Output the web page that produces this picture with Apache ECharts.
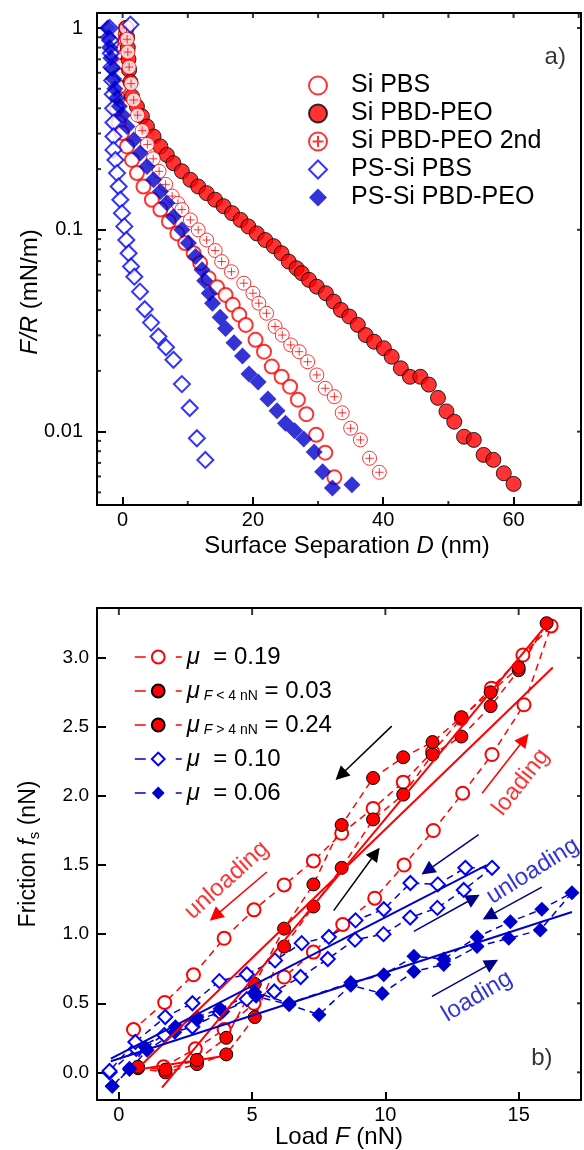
<!DOCTYPE html>
<html><head><meta charset="utf-8">
<script src="https://cdn.jsdelivr.net/npm/echarts@6.0.0/dist/echarts.min.js"></script>
<style>html,body{margin:0;padding:0;background:#fff}#c{width:584px;height:1150px}</style>
</head><body><div id="c"></div>
<script>
// ---------- Panel a) data: [D (nm), F/R (mN/m)] ----------
const siPBS = [[0.5,1.0],[0.45,0.93],[0.35,0.86],[0.2,0.79],[0.05,0.72],[-0.15,0.65],[-0.35,0.58],[-0.55,0.51],[-0.75,0.45],[-0.9,0.40],[-0.6,0.34],[-0.1,0.302],[0.67,0.259],[1.44,0.222],[2.2,0.191],[3.2,0.164],[4.5,0.141],[5.8,0.126],[7.1,0.110],[8.4,0.096],[9.6,0.086],[10.9,0.0766],[11.9,0.0684],[13.2,0.0576],[14.5,0.052],[15.8,0.0476],[16.9,0.0425],[17.9,0.038],[18.9,0.0338],[20.4,0.0285],[21.7,0.0249],[22.9,0.0210],[24.4,0.0187],[25.7,0.0167],[26.9,0.0144],[28.2,0.0122],[29.7,0.00964],[31.1,0.00787],[32.5,0.00594]];
const siPBDPEO = [[0.6,1.0],[0.7,0.9],[0.8,0.8],[0.9,0.7],[1.0,0.62],[1.2,0.54],[1.44,0.458],[2.2,0.408],[2.97,0.365],[3.74,0.325],[4.75,0.290],[5.8,0.259],[6.8,0.235],[7.8,0.214],[9.1,0.195],[10.4,0.177],[11.6,0.164],[12.9,0.152],[14.2,0.141],[15.5,0.131],[16.8,0.121],[18.1,0.112],[19.3,0.104],[20.6,0.096],[21.9,0.089],[23.2,0.083],[24.4,0.0766],[25.5,0.0696],[26.7,0.0645],[27.5,0.061],[28.6,0.0565],[29.8,0.0523],[31.2,0.0485],[32.4,0.0441],[33.5,0.0401],[34.8,0.0372],[36.1,0.0338],[37.3,0.0301],[38.6,0.0279],[40.1,0.0259],[41.3,0.0235],[42.7,0.0206],[44.1,0.0187],[45.7,0.0187],[47.0,0.0171],[48.4,0.0147],[49.7,0.0126],[50.9,0.0112],[52.4,0.00944],[53.9,0.0091],[55.4,0.00767],[56.9,0.00725],[58.5,0.00622],[60.0,0.00551]];
const siPBDPEO2 = [[0.6,1.0],[0.7,0.88],[0.8,0.76],[1.0,0.64],[1.3,0.53],[1.7,0.44],[2.3,0.37],[3.0,0.31],[3.8,0.265],[4.7,0.225],[5.6,0.195],[6.6,0.168],[7.6,0.147],[8.5,0.135],[9.1,0.126],[10.4,0.112],[11.6,0.100],[12.9,0.089],[14.2,0.079],[15.2,0.0696],[16.7,0.062],[18.6,0.0544],[20.0,0.0485],[20.9,0.0433],[22.1,0.0386],[23.4,0.0332],[24.5,0.0301],[25.8,0.0269],[27.1,0.0249],[28.4,0.0222],[29.8,0.0191],[31.1,0.0164],[32.5,0.0149],[33.7,0.0124],[35.0,0.0104],[36.5,0.0091],[37.9,0.00738],[39.4,0.00629]];
const psSiPBS = [[1.2,1.04],[-2.0,1.0],[-1.9,0.87],[-1.8,0.75],[-1.7,0.64],[-1.6,0.55],[-1.5,0.47],[-1.45,0.40],[-1.4,0.34],[-1.4,0.29],[-1.4,0.249],[-1.1,0.222],[-0.86,0.191],[-0.6,0.164],[-0.35,0.141],[-0.1,0.121],[0.26,0.104],[0.57,0.089],[0.92,0.0766],[1.29,0.0658],[1.8,0.0586],[2.67,0.0494],[3.4,0.0404],[4.37,0.0347],[5.5,0.0296],[6.66,0.0262],[7.8,0.0227],[9.1,0.0172],[10.3,0.0131],[11.4,0.00927],[12.7,0.00724]];
const psSiPBDPEO = [[-2.3,1.0],[-2.2,0.9],[-2.0,0.8],[-1.8,0.71],[-1.6,0.63],[-1.4,0.56],[-1.2,0.5],[-0.9,0.45],[-0.5,0.41],[0,0.37],[0.67,0.325],[1.7,0.279],[2.7,0.240],[3.74,0.206],[4.75,0.177],[5.8,0.155],[6.8,0.136],[7.8,0.116],[9.1,0.100],[10.1,0.086],[11.2,0.0738],[12.2,0.0635],[12.6,0.056],[13.3,0.0485],[13.8,0.0433],[14.97,0.0369],[15.8,0.0324],[17.1,0.0276],[18.4,0.0237],[19.4,0.0193],[20.8,0.0176],[22.3,0.0145],[23.7,0.0127],[25.0,0.011],[26.4,0.0101],[27.8,0.0092],[29.4,0.00793],[30.7,0.00633],[32.2,0.00525],[35.2,0.00545]];
const namesA = ['Si PBS','Si PBD-PEO','Si PBD-PEO 2nd','PS-Si PBS','PS-Si PBD-PEO'];
const xMinA = -3.93, xMaxA = 70.35, yMinA = 0.00433, yMaxA = 1.187;
const aXMajor = [0,20,40,60];
const aXMinor = [10,30,50,70];
const aXAll = [0,10,20,30,40,50,60,70];
const aYMajor = [0.01,0.1,1];
const aYMinor = [0.005,0.006,0.007,0.008,0.009,0.02,0.03,0.04,0.05,0.06,0.07,0.08,0.09,0.2,0.3,0.4,0.5,0.6,0.7,0.8,0.9];
const aLabel = [{name:'a)', value:[66.4,0.712]}];

// ---------- Panel b) data: [F (nN), f_s (nN)] loading then unloading ----------
const openCircles = [[1.68,0.04],[2.87,0.17],[3.95,0.31],[5.07,0.50],[6.2,0.69],[7.3,0.87],[8.4,1.07],[9.6,1.26],[10.7,1.50],[11.8,1.75],[12.9,2.02],[14.0,2.30],[15.2,2.66],[16.22,3.23],[15.16,3.02],[13.98,2.78],[12.85,2.56],[11.77,2.32],[10.67,2.10],[9.54,1.91],[8.36,1.73],[7.3,1.53],[6.2,1.356],[5.07,1.176],[3.95,0.97],[2.80,0.706],[1.72,0.506],[0.55,0.31]];
const filledCircles = [[0.72,0.03],[1.75,0.0],[2.93,0.06],[4.03,0.13],[5.1,0.40],[6.2,0.91],[7.3,1.20],[8.36,1.48],[9.54,1.83],[10.67,2.01],[11.77,2.30],[12.85,2.43],[13.95,2.65],[15.0,2.91],[16.05,3.25],[15.0,2.93],[13.95,2.75],[12.85,2.57],[11.77,2.39],[10.67,2.28],[9.54,2.13],[8.36,1.79],[7.3,1.36],[6.2,1.04],[5.1,0.64],[4.03,0.25],[2.93,0.09],[1.75,0.02],[0.72,0.04]];
const openDiamonds = [[-0.35,0.0],[0.65,0.17],[1.7,0.27],[2.76,0.33],[3.8,0.43],[4.8,0.53],[5.83,0.585],[6.82,0.69],[7.84,0.82],[8.86,0.96],[9.93,1.0],[10.93,1.12],[11.95,1.19],[12.94,1.32],[14.0,1.48],[13.0,1.48],[11.97,1.36],[10.94,1.37],[9.94,1.18],[8.88,1.10],[7.88,0.98],[6.86,0.935],[5.86,0.81],[4.8,0.71],[3.77,0.66],[2.76,0.50],[1.74,0.40],[0.62,0.22],[-0.35,0.01]];
const filledDiamonds = [[-0.25,-0.1],[0.4,0.02],[1.06,0.16],[2.1,0.29],[2.93,0.38],[3.9,0.44],[5.15,0.55],[6.39,0.49],[7.51,0.417],[8.7,0.63],[9.88,0.57],[11.07,0.73],[12.19,0.78],[13.44,0.91],[14.63,0.97],[15.81,1.03],[17.0,1.30],[15.87,1.18],[14.69,1.09],[13.44,0.98],[12.19,0.82],[11.07,0.84],[9.94,0.706],[8.70,0.65],[6.39,0.5],[5.1,0.58],[3.8,0.46],[2.93,0.40],[2.12,0.33],[1.0,0.18],[0.4,0.03],[-0.25,-0.1]];
const fitOpenCircles = [[0.72,0.03],[16.28,2.93]];
const fitFilledHigh = [[1.62,-0.11],[16.1,3.25]];
const fitFilledLow = [[0.72,0.02],[4.0,0.12]];
const fitOpenDiamonds = [[-0.3,0.10],[13.8,1.50]];
const fitFilledDiamonds = [[-0.3,0.08],[17.0,1.16]];
const arrowsBlack = [[[10.24,2.505],[8.32,2.15]],[[8.06,1.17],[9.63,1.585]]];
const arrowsRed = [[[13.63,2.02],[15.21,2.41]],[[5.55,1.45],[3.61,1.13]]];
const arrowsBlue = [[[13.5,1.72],[11.57,1.46]],[[15.87,1.34],[13.88,1.13]],[[11.07,1.02],[13.31,1.26]],[[11.75,0.55],[14.0,0.79]]];
const textRed = [{name:'unloading', value:[4.05,1.39], rot:42},{name:'loading', value:[15.09,2.10], rot:52}];
const textBlue = [{name:'unloading', value:[15.53,1.457], rot:32},{name:'loading', value:[13.44,0.55], rot:31}];
const bLabel = [{name:'b)', value:[15.87,0.104]}];
const namesB = ['oc','fc','fc2','od','fd'];
const legendB = {oc:'{i|μ}  = 0.19', fc:'{i|μ}{s| }{si|F}{s| < 4 nN} = 0.03', fc2:'{i|μ}{s| }{si|F}{s| > 4 nN} = 0.24', od:'{i|μ}  = 0.10', fd:'{i|μ}  = 0.06'};
const xMinB = -0.82, xMaxB = 17.34, yMinB = -0.2, yMaxB = 3.36;
const bXMajor = [0,5,10,15];
const bYMajor = [0,0.5,1.0,1.5,2.0,2.5,3.0];

// ---------- styling ----------
const FONT = '"Liberation Sans", Arial, Helvetica, sans-serif';
const RED = '#ff0000', BLUE = '#0000ff', DBLUE = '#0000cc', NAVY = '#00008b';
const plusCircle = 'path://M10,0A10,10,0,1,1,10,20A10,10,0,1,1,10,0ZM10,4L10,16M4,10L16,10';
const LINE = {show:true, onZero:false, lineStyle:{color:'#000', width:2}};
function ticks(vals, len){ return {show:true, inside:true, length:len, customValues:vals, lineStyle:{color:'#000', width:2}}; }
const noTick = {show:false};
const noLabel = {show:false};
const noSplit = {show:false};

const chart = echarts.init(document.getElementById('c'), null, {renderer:'canvas'});
const gA = {left:97, top:13, width:484, height:492, outerBoundsMode:'none', containLabel:false};
const gB = {left:97, top:608, width:484, height:492, outerBoundsMode:'none', containLabel:false};

// tick marks drawn as thin rect symbols placed on an axis edge through the axis scales
function tickMarks(points, side, len, xi, yi){
  const horiz = (side==='left' || side==='right');
  const size = horiz ? [len,2] : [2,len];
  const off = side==='left' ? [len/2,0] : side==='right' ? [-len/2,0] : side==='bottom' ? [0,-len/2] : [0,len/2];
  return {type:'scatter', xAxisIndex:xi, yAxisIndex:yi, data:points, symbol:'rect', symbolSize:size, symbolOffset:off,
    itemStyle:{color:'#000'}, clip:false, silent:true, z:4};
}
function arrowSeries(data, color){
  return {type:'lines', coordinateSystem:'cartesian2d', xAxisIndex:2, yAxisIndex:2, z:6,
    symbol:['none','triangle'], symbolSize:[10,14],
    lineStyle:{color:color, width:1.5, opacity:1, curveness:0},
    data: data.map(c=>({coords:c}))};
}
function textSeries(data, color, xi, yi){
  return {type:'scatter', xAxisIndex:xi, yAxisIndex:yi, symbolSize:0, z:7, silent:true,
    data: data.map(d=>({name:d.name, value:d.value, label:{rotate:d.rot||0}})),
    label:{show:true, position:'inside', formatter:p=>p.name, color:color, fontSize:24, fontFamily:FONT}};
}
const nameStyle = {fontSize:24, color:'#000', fontFamily:FONT, rich:{i:{fontStyle:'italic', fontSize:24, fontFamily:FONT}}};

const option = {
  animation:false,
  backgroundColor:'#fff',
  textStyle:{fontFamily:FONT},
  grid:[gA, gB],
  xAxis:[
    {gridIndex:0, type:'value', position:'bottom', min:xMinA, max:xMaxA, axisLine:LINE, axisTick:ticks(aXMajor,8), splitLine:noSplit,
     axisLabel:{customValues:aXMajor, fontSize:20, margin:5, color:'#000', fontFamily:FONT},
     name:'Surface Separation {i|D} (nm)', nameLocation:'middle', nameGap:29, nameMoveOverlap:false,
     nameTextStyle:Object.assign({padding:[0,0,0,16]}, nameStyle)},
    {gridIndex:0, type:'value', position:'top', min:xMinA, max:xMaxA, axisLine:LINE, axisTick:noTick, axisLabel:noLabel, splitLine:noSplit},
    {gridIndex:1, type:'value', position:'bottom', min:xMinB, max:xMaxB, axisLine:LINE, axisTick:ticks(bXMajor,8), splitLine:noSplit,
     axisLabel:{customValues:bXMajor, fontSize:20, margin:5, color:'#000', fontFamily:FONT},
     name:'Load {i|F} (nN)', nameLocation:'middle', nameGap:25, nameMoveOverlap:false,
     nameTextStyle:nameStyle},
    {gridIndex:1, type:'value', position:'top', min:xMinB, max:xMaxB, axisLine:LINE, axisTick:noTick, axisLabel:noLabel, splitLine:noSplit}
  ],
  yAxis:[
    {gridIndex:0, type:'log', logBase:10, position:'left', min:yMinA, max:yMaxA, axisLine:LINE, axisTick:ticks(aYMajor,9), splitLine:noSplit, minorTick:{show:false}, minorSplitLine:{show:false},
     axisLabel:{customValues:aYMajor, formatter:v=>String(v), fontSize:20, margin:14, color:'#000', fontFamily:FONT},
     name:'{i|F/R} (mN/m)', nameLocation:'middle', nameGap:55, nameMoveOverlap:false,
     nameTextStyle:Object.assign({padding:[0,66,0,0]}, nameStyle)},
    {gridIndex:0, type:'log', logBase:10, position:'right', min:yMinA, max:yMaxA, axisLine:LINE, axisTick:noTick, axisLabel:noLabel, splitLine:noSplit},
    {gridIndex:1, type:'value', position:'left', min:yMinB, max:yMaxB, axisLine:LINE, axisTick:ticks(bYMajor,9), splitLine:noSplit,
     axisLabel:{customValues:bYMajor, formatter:v=>v.toFixed(1), fontSize:19, margin:8, color:'#000', fontFamily:FONT},
     name:'Friction {i|f}{sub|s} (nN)', nameLocation:'middle', nameGap:55, nameMoveOverlap:false,
     nameTextStyle:{fontSize:23, lineHeight:26, color:'#000', fontFamily:FONT, rich:{i:{fontStyle:'italic', fontSize:23, lineHeight:26, fontFamily:FONT}, sub:{fontSize:15, lineHeight:12, verticalAlign:'bottom', fontFamily:FONT}}}},
    {gridIndex:1, type:'value', position:'right', min:yMinB, max:yMaxB, axisLine:LINE, axisTick:noTick, axisLabel:noLabel, splitLine:noSplit}
  ],
  legend:[
    {data:namesA, orient:'vertical', left:308, top:73, padding:0, itemGap:3, itemWidth:18, itemHeight:18, selectedMode:false,
     textStyle:{fontSize:25, lineHeight:25, color:'#000', fontFamily:FONT, padding:[0,0,0,19]}},
    {data:namesB, orient:'vertical', left:134, top:645, padding:0, itemGap:10, itemWidth:47, itemHeight:16, selectedMode:false,
     lineStyle:{type:[11,30], width:1.5},
     formatter:n=>legendB[n],
     textStyle:{fontSize:24, lineHeight:24, color:'#000', fontFamily:FONT,
       rich:{i:{fontStyle:'italic', fontSize:24, lineHeight:24, fontFamily:FONT},
             si:{fontStyle:'italic', fontSize:14, lineHeight:10, verticalAlign:'bottom', fontFamily:FONT},
             s:{fontSize:14, lineHeight:10, verticalAlign:'bottom', fontFamily:FONT}}}}
  ],
  series:[
    {name:'Si PBS', type:'scatter', xAxisIndex:0, yAxisIndex:0, data:siPBS, symbol:'emptyCircle', symbolSize:14, itemStyle:{color:RED, borderColor:RED, borderWidth:1}},
    {name:'Si PBD-PEO', type:'scatter', xAxisIndex:0, yAxisIndex:0, data:siPBDPEO, symbol:'circle', symbolSize:15, itemStyle:{color:RED, borderColor:'#000', borderWidth:1}},
    {name:'Si PBD-PEO 2nd', type:'scatter', xAxisIndex:0, yAxisIndex:0, data:siPBDPEO2, symbol:plusCircle, symbolSize:14, itemStyle:{color:'#fff', borderColor:RED, borderWidth:1}},
    {name:'PS-Si PBS', type:'scatter', xAxisIndex:0, yAxisIndex:0, data:psSiPBS, symbol:'emptyDiamond', symbolSize:16, itemStyle:{color:BLUE, borderColor:BLUE, borderWidth:1}},
    {name:'PS-Si PBD-PEO', type:'scatter', xAxisIndex:0, yAxisIndex:0, data:psSiPBDPEO, symbol:'diamond', symbolSize:17, itemStyle:{color:DBLUE, borderColor:DBLUE, borderWidth:0}},
    textSeries(aLabel, '#000', 0, 0),
    tickMarks(aYMinor.map(v=>[xMinA,v]), 'left', 4, 0, 0),
    tickMarks(aXMinor.map(v=>[v,yMinA]), 'bottom', 4, 0, 0),
    tickMarks(aXAll.map(v=>[v,yMaxA]), 'top', 5, 0, 0),
    tickMarks(aYMajor.map(v=>[xMaxA,v]), 'right', 4, 0, 0),

    {name:'oc', type:'line', xAxisIndex:2, yAxisIndex:2, data:openCircles, symbol:'emptyCircle', symbolSize:13, showAllSymbol:true,
     lineStyle:{color:RED, width:1.5, type:[7,5]}, itemStyle:{color:RED, borderColor:RED, borderWidth:1.2}},
    {name:'fc', type:'line', xAxisIndex:2, yAxisIndex:2, data:filledCircles, symbol:'circle', symbolSize:13, showAllSymbol:true,
     lineStyle:{color:RED, width:1.5, type:[7,5]}, itemStyle:{color:RED, borderColor:'#000', borderWidth:1}},
    {name:'fc2', type:'line', xAxisIndex:2, yAxisIndex:2, data:[], symbol:'circle', symbolSize:13,
     lineStyle:{color:RED, width:1.5, type:[7,5]}, itemStyle:{color:RED, borderColor:'#000', borderWidth:1}},
    {name:'od', type:'line', xAxisIndex:2, yAxisIndex:2, data:openDiamonds, symbol:'emptyDiamond', symbolSize:14, showAllSymbol:true,
     lineStyle:{color:DBLUE, width:1.5, type:[7,5]}, itemStyle:{color:BLUE, borderColor:BLUE, borderWidth:1}},
    {name:'fd', type:'line', xAxisIndex:2, yAxisIndex:2, data:filledDiamonds, symbol:'diamond', symbolSize:15, showAllSymbol:true,
     lineStyle:{color:DBLUE, width:1.5, type:[7,5]}, itemStyle:{color:DBLUE, borderColor:DBLUE, borderWidth:0}},
    {type:'line', xAxisIndex:2, yAxisIndex:2, data:fitOpenCircles, symbol:'none', z:5, lineStyle:{color:RED, width:2}},
    {type:'line', xAxisIndex:2, yAxisIndex:2, data:fitFilledHigh, symbol:'none', z:5, lineStyle:{color:RED, width:2}},
    {type:'line', xAxisIndex:2, yAxisIndex:2, data:fitFilledLow, symbol:'none', z:5, lineStyle:{color:RED, width:2}},
    {type:'line', xAxisIndex:2, yAxisIndex:2, data:fitOpenDiamonds, symbol:'none', z:5, lineStyle:{color:DBLUE, width:2}},
    {type:'line', xAxisIndex:2, yAxisIndex:2, data:fitFilledDiamonds, symbol:'none', z:5, lineStyle:{color:DBLUE, width:2}},
    arrowSeries(arrowsBlack, '#000'),
    arrowSeries(arrowsRed, RED),
    arrowSeries(arrowsBlue, NAVY),
    textSeries(textRed, RED, 2, 2),
    textSeries(textBlue, DBLUE, 2, 2),
    textSeries(bLabel, '#000', 2, 2),
    tickMarks(bXMajor.map(v=>[v,yMaxB]), 'top', 7, 2, 2),
    tickMarks(bYMajor.map(v=>[xMaxB,v]), 'right', 4, 2, 2)
  ]
};
chart.setOption(option);
</script></body></html>
